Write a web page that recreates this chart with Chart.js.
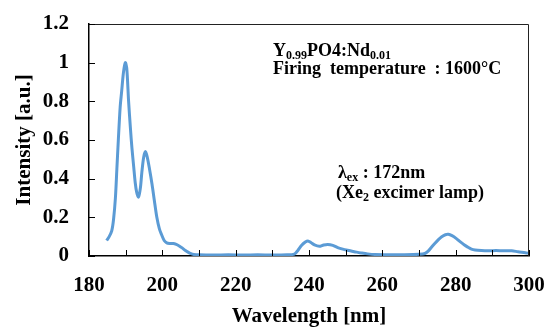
<!DOCTYPE html>
<html>
<head>
<meta charset="utf-8">
<script src="https://cdn.jsdelivr.net/npm/chart.js@4"></script>
<style>
  html, body { margin: 0; padding: 0; background: #fff; }
  #wrap { width: 549px; height: 327px; }
</style>
</head>
<body>
<div id="wrap"><canvas id="MyChart"></canvas></div>
<script>
// spectrum
const wavelengths = [
  184.8, 185.5, 186.2, 186.7, 187.2, 187.6, 188.0, 188.5, 188.9, 189.4,
  189.9, 190.3, 190.8, 191.3, 191.7, 192.2, 192.6, 193.0, 193.5, 194.0,
  194.4, 194.9, 195.4, 195.9, 196.5, 197.2, 197.8, 198.5, 199.2, 199.8,
  200.5, 201.2, 202.0, 203.0, 203.8, 204.6, 205.4, 206.2, 207.0, 207.8,
  208.6, 210, 214, 218, 222, 226, 230, 234, 236, 237,
  238, 239, 239.7, 240.5, 241.5, 242.8, 244, 245.1, 246.5, 248,
  249.7, 251.5, 253, 254.2, 256, 258, 262, 266, 270, 271.6,
  272.5, 273.4, 274.3, 275.3, 276.2, 277.2, 278, 279, 280.2, 281.2,
  282.3, 283.3, 284.3, 285.3, 287, 289, 291, 293, 295.3, 297,
  299, 300
];
const intensity = [
  0.08, 0.10, 0.13, 0.19, 0.30, 0.45, 0.60, 0.77, 0.85, 0.95,
  1.00, 0.97, 0.80, 0.66, 0.56, 0.46, 0.38, 0.33, 0.305, 0.35,
  0.43, 0.51, 0.54, 0.51, 0.45, 0.37, 0.29, 0.20, 0.14, 0.11,
  0.08, 0.068, 0.065, 0.065, 0.060, 0.052, 0.042, 0.030, 0.020, 0.012,
  0.008, 0.006, 0.005, 0.006, 0.005, 0.006, 0.005, 0.006, 0.010, 0.030,
  0.055, 0.072, 0.078, 0.070, 0.057, 0.050, 0.057, 0.060, 0.055, 0.042,
  0.033, 0.026, 0.020, 0.016, 0.011, 0.008, 0.007, 0.007, 0.009, 0.013,
  0.025, 0.045, 0.065, 0.085, 0.100, 0.110, 0.112, 0.105, 0.090, 0.074,
  0.058, 0.046, 0.036, 0.031, 0.028, 0.027, 0.028, 0.027, 0.027, 0.022,
  0.017, 0.014
];
const xTickLabels = ['180', '', '200', '', '220', '', '240', '', '260', '', '280', '', '300'];
const yTickLabels = ['0', '0.2', '0.4', '0.6', '0.8', '1', '1.2'];

const serif = '"Liberation Serif", "Times New Roman", serif';

// text boxes inside the plot, drawn with sub-scripts
const notes = [
  { x: 273, y: 56, size: 18, parts: [['Y'], ['0.99', 1], ['PO4:Nd'], ['0.01', 1]] },
  { x: 273, y: 74, size: 18, parts: [['Firing  temperature  : 1600°C']] },
  { x: 338, y: 178, size: 18, parts: [['λ'], ['ex', 1], [' : 172nm']] },
  { x: 336, y: 198, size: 18, parts: [['(Xe'], ['2', 1], [' excimer lamp)']] }
];

const notesPlugin = {
  id: 'notes',
  afterDraw(chart) {
    const c = chart.ctx;
    const a = chart.chartArea;
    const xs = chart.scales.x;
    const ys = chart.scales.y;
    c.save();
    // frame on top and right
    c.strokeStyle = '#222';
    c.lineWidth = 1;
    c.beginPath();
    c.moveTo(a.left, a.top + 0.5);
    c.lineTo(a.right - 0.5, a.top + 0.5);
    c.lineTo(a.right - 0.5, a.bottom);
    c.stroke();

    // inward tick marks
    c.strokeStyle = '#000';
    c.beginPath();
    xs.ticks.forEach(t => {
      const px = Math.round(xs.getPixelForValue(t.value)) + 0.5;
      c.moveTo(px, a.bottom);
      c.lineTo(px, a.bottom - 6);
    });
    ys.ticks.forEach(t => {
      const py = Math.round(ys.getPixelForValue(t.value)) + 0.5;
      c.moveTo(a.left, py);
      c.lineTo(a.left + 6, py);
    });
    c.stroke();

    c.fillStyle = '#000';
    c.textBaseline = 'alphabetic';
    notes.forEach(n => {
      let x = n.x;
      n.parts.forEach(p => {
        const sub = p[1] === 1;
        const size = sub ? Math.round(n.size * 0.65) : n.size;
        c.font = 'bold ' + size + 'px ' + serif;
        c.fillText(p[0], x, n.y + (sub ? 3 : 0));
        x += c.measureText(p[0]).width;
      });
    });
    c.restore();
  }
};

const ctx = document.getElementById('MyChart').getContext('2d');
new Chart(ctx, {
  type: 'line',
  data: {
    datasets: [{
      data: wavelengths.map((w, i) => ({ x: w, y: intensity[i] })),
      borderColor: '#5B9BD5',
      borderWidth: 3,
      pointRadius: 0,
      tension: 0.3,
      fill: false
    }]
  },
  options: {
    responsive: true,
    maintainAspectRatio: false,
    animation: false,
    layout: { padding: { left: 0, right: 20, top: 24, bottom: 0 } },
    plugins: { legend: { display: false }, tooltip: { enabled: false } },
    scales: {
      x: {
        type: 'linear',
        min: 180,
        max: 300,
        afterFit: s => { s.height = 71; s.paddingLeft = 0; s.paddingRight = 0; },
        ticks: {
          stepSize: 10,
          autoSkip: false,
          maxRotation: 0,
          padding: 17,
          color: '#000',
          font: { family: serif, size: 21, weight: 'bold' },
          callback: (v, i) => xTickLabels[i]
        },
        grid: { drawOnChartArea: false, drawTicks: false },
        border: { color: '#000', width: 1.5 },
        title: {
          display: true,
          text: 'Wavelength [nm]',
          color: '#000',
          font: { family: serif, size: 21, weight: 'bold', lineHeight: 1 },
          padding: { top: 0, bottom: 0 }
        }
      },
      y: {
        min: 0,
        max: 1.2,
        afterFit: s => { s.width = 89; s.paddingTop = 0; s.paddingBottom = 0; },
        ticks: {
          stepSize: 0.2,
          padding: 20,
          color: '#000',
          font: { family: serif, size: 21, weight: 'bold' },
          callback: (v, i) => yTickLabels[i]
        },
        grid: { drawOnChartArea: false, drawTicks: false },
        border: { color: '#000', width: 1.5 },
        title: {
          display: true,
          text: 'Intensity [a.u.]',
          color: '#000',
          font: { family: serif, size: 21, weight: 'bold', lineHeight: 1.2 },
          padding: { top: 12, bottom: 0 }
        }
      }
    }
  },
  plugins: [notesPlugin]
});
</script>
</body>
</html>
